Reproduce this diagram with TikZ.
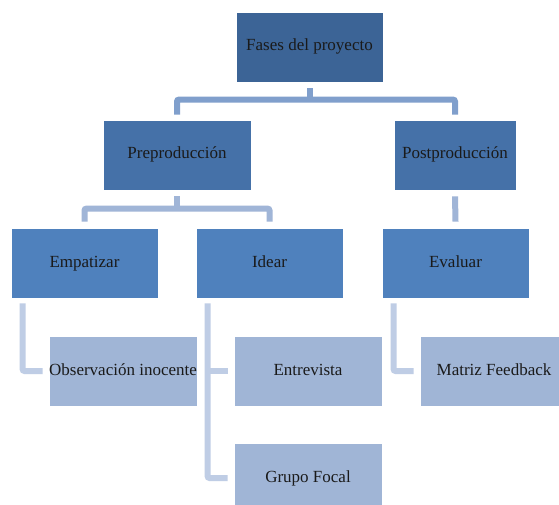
\documentclass[tikz,border=0pt]{standalone}
\usepackage{fontspec}
\setmainfont{Liberation Serif}
\usetikzlibrary{calc}
\definecolor{cTop}{HTML}{3C6496}
\definecolor{cMid}{HTML}{4571A8}
\definecolor{cLow}{HTML}{4F81BD}
\definecolor{cLeaf}{HTML}{A0B5D6}
\definecolor{lOne}{HTML}{809FCC}
\definecolor{lTwo}{HTML}{A0B5D7}
\definecolor{lThree}{HTML}{BFCDE5}
\definecolor{txt}{HTML}{1A1A1A}
\begin{document}
\begin{tikzpicture}[x=1pt,y=-1pt,
  box/.style={rectangle,draw=white,line width=0.8pt,inner sep=0pt,minimum height=70pt,
    text=txt,font=\fontsize{17}{20}\selectfont,text height=0.8em,text depth=0pt},
  lvlA/.style={box,fill=cTop,minimum width=147pt},
  lvlB/.style={box,fill=cMid},
  lvlC/.style={box,fill=cLow,minimum width=147pt},
  lvlD/.style={box,fill=cLeaf,minimum width=148pt},
  conA/.style={draw=lOne,line width=6pt,rounded corners=2pt},
  conB/.style={draw=lTwo,line width=6pt,rounded corners=2pt},
  conC/.style={draw=lThree,line width=6pt,rounded corners=2pt}]
\clip (0,0) rectangle (559,505);
\fill[white] (0,0) rectangle (559,505);
% nodes
\node[lvlA] (top) at (309.5,47) {Fases del proyecto};
\node[lvlB,minimum width=148pt] (pre) at (177,155) {Preproducción};
\node[lvlB,minimum width=122pt] (post) at (455,155) {Postproducción};
\node[lvlC] (emp) at (84.5,263) {Empatizar};
\node[lvlC] (idear) at (269.5,263) {Idear};
\node[lvlC] (eval) at (455.5,263) {Evaluar};
\node[lvlD] (obs) at (123,371) {Observación inocente};
\node[lvlD] (entr) at (308,371) {Entrevista};
\node[lvlD] (grupo) at (308,478) {Grupo Focal};
\node[lvlD] (matriz) at (494,371) {Matriz Feedback};
% connectors level 1
\draw[conA] ([yshift=-6pt]top.south) -- ++(0,12);
\draw[conA] ([yshift=5pt]pre.north) -- ++(0,-15) -| ([yshift=5pt]post.north);
% connectors level 2
\draw[conB] ([yshift=-6pt]pre.south) -- ++(0,13);
\draw[conB] ([yshift=6pt]emp.north) -- ++(0,-13) -| ([yshift=6pt]idear.north);
\draw[conB] ([yshift=-6pt]post.south) -- ([yshift=6pt]eval.north);
% connectors level 3
\draw[conC] ([xshift=12pt,yshift=-5pt]emp.south west) |- ([xshift=-6pt]obs.west);
\draw[conC] ([xshift=12pt,yshift=-5pt]idear.south west) |- ([xshift=-6pt]grupo.west);
\draw[conC] ([xshift=12pt]idear.west |- entr.west) -- ([xshift=-6pt]entr.west);
\draw[conC] ([xshift=12pt,yshift=-5pt]eval.south west) |- ([xshift=-6pt]matriz.west);
\end{tikzpicture}
\end{document}
